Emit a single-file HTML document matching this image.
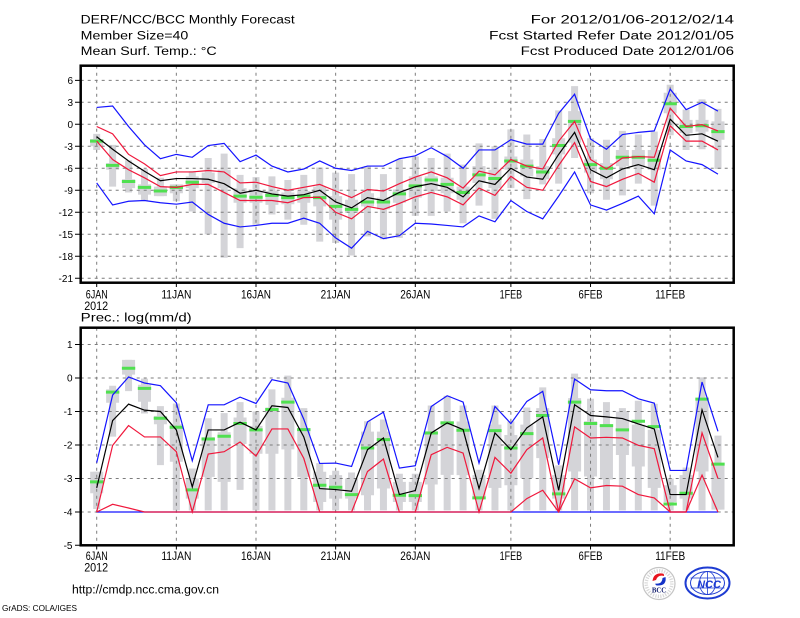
<!DOCTYPE html>
<html><head><meta charset="utf-8"><style>
html,body{margin:0;padding:0;background:#fff;}
svg{display:block;}
text{font-family:"Liberation Sans",sans-serif;fill:#000;}
.ns{vector-effect:non-scaling-stroke;fill:none;}
</style></head><body>
<svg width="800" height="618" viewBox="0 0 800 618" xmlns="http://www.w3.org/2000/svg">
<rect width="800" height="618" fill="#fff"/>

<!-- Header -->
<g font-size="11.5">
<text x="80.7" y="23.3" textLength="214" lengthAdjust="spacingAndGlyphs">DERF/NCC/BCC Monthly Forecast</text>
<text x="80.7" y="39.3" textLength="107.6" lengthAdjust="spacingAndGlyphs">Member Size=40</text>
<text x="80.7" y="55" textLength="136" lengthAdjust="spacingAndGlyphs">Mean Surf. Temp.: °C</text>
<text x="530.7" y="23.3" textLength="203.3" lengthAdjust="spacingAndGlyphs">For 2012/01/06-2012/02/14</text>
<text x="489" y="39.3" textLength="245" lengthAdjust="spacingAndGlyphs">Fcst Started Refer Date 2012/01/05</text>
<text x="520.7" y="55" textLength="213.3" lengthAdjust="spacingAndGlyphs">Fcst Produced Date 2012/01/06</text>
<text x="80.7" y="321.7" textLength="111" lengthAdjust="spacingAndGlyphs">Prec.: log(mm/d)</text>
</g>

<!-- ================= TOP CHART ================= -->
<g transform="matrix(15.93 0 0 -7.33 96.7 124.3)">
<path class="ns" stroke="#d4d4d8" stroke-width="7" d="M0,-1.3V-3.5M1,-2.8V-8.5M2,-4.9V-9.3M3,-6.1V-10.4M4,-7.3V-9.8M5,-8.2V-10.5M6,-6.4V-11.9M7,-4.6V-15M8,-4V-18.2M9,-6.9V-16.9M10,-7.2V-13.7M11,-7.1V-12.3M12,-7.6V-13M13,-6.9V-13.7M14,-5.9V-16M15,-6.6V-16.2M16,-6.8V-17.9M17,-5.7V-15.3M18,-6.8V-15.7M19,-4.8V-15.5M20,-4.4V-12.5M21,-4.6V-12.5M22,-4V-11.9M23,-5.5V-13.5M24,-2.6V-11.1M25,-3V-12.9M26,-0.7V-8.7M27,-1.4V-10.2M28,-2V-8.2M29,1.9V-8.1M30,5.2V-4.6M31,-1.9V-9.4M32,-2.1V-10.3M33,-0.9V-9.7M34,-1.4V-8.1M35,-1V-11.1M36,5.4V-1.5M37,2V-3.5M38,3.4V-3.4M39,2.1V-6.1"/>
<path class="ns" stroke="#d4d4d8" stroke-width="13" d="M0,-2V-3M1,-5.3V-6.2M2,-7.5V-8.7M3,-8.2V-9.6M4,-8.5V-9.8M5,-8.2V-9.4M6,-7.1V-8.7M7,-6.6V-8M8,-6.2V-8.7M9,-8.7V-10.7M10,-9.1V-10.7M11,-9.1V-11M12,-9.3V-10.9M13,-9.1V-10.7M14,-8.5V-11.2M15,-9.8V-13M16,-10.3V-12.1M17,-9.4V-11.2M18,-10V-11.6M19,-8.9V-10.7M20,-7.1V-10M21,-7.1V-9.1M22,-7.3V-9.4M23,-8.5V-10.3M24,-5.7V-8M25,-6.2V-8.7M26,-4.4V-6.2M27,-4.8V-7.1M28,-5.7V-7.5M29,-1.9V-4.1M30,1.8V-2.5M31,-4.8V-6.6M32,-5.3V-7.5M33,-3.5V-5.7M34,-3.5V-5.7M35,-3.5V-6.2M36,4.3V1.5M37,0.6V-1.2M38,0.6V-1M39,0.4V-2.1"/>
</g>
<!-- top grid -->
<g stroke="#7c7c7c" stroke-width="1" stroke-dasharray="3 4" fill="none">
<path d="M80.7,80.32H733.7M80.7,102.31H733.7M80.7,124.3H733.7M80.7,146.29H733.7M80.7,168.28H733.7M80.7,190.27H733.7M80.7,212.26H733.7M80.7,234.25H733.7M80.7,256.24H733.7M80.7,278.23H733.7"/>
<path d="M96.7,65.7V282.7M176.35,65.7V282.7M256,65.7V282.7M335.65,65.7V282.7M415.3,65.7V282.7M510.88,65.7V282.7M590.53,65.7V282.7M670.18,65.7V282.7"/>
</g>
<g transform="matrix(15.93 0 0 -7.33 96.7 124.3)">
<path class="ns" stroke="#50e050" stroke-width="3" d="M-0.42,-2.3h0.84M0.58,-5.6h0.84M1.58,-7.8h0.84M2.58,-8.6h0.84M3.58,-9.1h0.84M4.58,-8.6h0.84M5.58,-7.9h0.84M8.58,-9.8h0.84M9.58,-9.95h0.84M10.58,-9.7h0.84M11.58,-10h0.84M12.58,-9.8h0.84M13.58,-10h0.84M14.58,-11.2h0.84M15.58,-11.6h0.84M16.58,-10.6h0.84M17.58,-10.6h0.84M18.58,-9.5h0.84M19.58,-8.4h0.84M20.58,-7.6h0.84M21.58,-8.2h0.84M22.58,-9.3h0.84M23.58,-6.9h0.84M24.58,-7.4h0.84M25.58,-5h0.84M26.58,-5.7h0.84M27.58,-6.5h0.84M28.58,-2.9h0.84M29.58,0.4h0.84M30.58,-5.5h0.84M31.58,-6h0.84M32.58,-4.5h0.84M33.58,-4.5h0.84M34.58,-4.9h0.84M35.58,2.8h0.84M36.58,-0.3h0.84M37.58,-0.2h0.84M38.58,-1h0.84"/>
<polyline class="ns" stroke="#1414ff" stroke-width="1.2" points="0,2.3 1,2.5 2,-0.3 3,-2.8 4,-4.7 5,-4.1 6,-4.5 7,-2.9 8,-2.6 9,-5.1 10,-4.2 11,-5.7 12,-6.5 13,-6.1 14,-5 15,-6 16,-6.3 17,-5.7 18,-5.7 19,-4.7 20,-4.3 21,-3.2 22,-4.4 23,-6 24,-3.5 25,-3.5 26,-2.1 27,-2.7 28,-2.7 29,1.5 30,4.1 31,-2 32,-3.4 33,-1.4 34,-1.1 35,-0.9 36,4.8 37,2 38,3 39,1.8"/>
<polyline class="ns" stroke="#1414ff" stroke-width="1.2" points="0,-8 1,-11 2,-10.5 3,-10.4 4,-10.7 5,-10.9 6,-10.6 7,-12.3 8,-13.5 9,-14 10,-13.8 11,-13.5 12,-13.5 13,-12.8 14,-13.5 15,-15.5 16,-16.9 17,-14.6 18,-15.6 19,-15.2 20,-13.5 21,-13.6 22,-13.8 23,-14 24,-12.5 25,-13.3 26,-10.4 27,-11.9 28,-12.9 29,-9.8 30,-6.5 31,-11 32,-11.7 33,-10.8 34,-9.8 35,-12.2 36,-3.5 37,-5 38,-5.5 39,-6.8"/>
<polyline class="ns" stroke="#f0183c" stroke-width="1.2" points="0,-0.3 1,-1.3 2,-4.1 3,-5.4 4,-7 5,-6.5 6,-6.5 7,-6.3 8,-6.5 9,-8 10,-7.9 11,-8.5 12,-9 13,-8.6 14,-8.2 15,-9.1 16,-10 17,-8.9 18,-9.1 19,-8.1 20,-7.2 21,-6.5 22,-7.3 23,-8.7 24,-6.4 25,-6.9 26,-4.8 27,-5.7 28,-6.1 29,-2.3 30,0.4 31,-4.8 32,-6.1 33,-4.6 34,-4.4 35,-4.5 36,2.2 37,-0.3 38,-0.05 39,-0.9"/>
<polyline class="ns" stroke="#f0183c" stroke-width="1.2" points="0,-2.3 1,-4.8 2,-6.2 3,-7.3 4,-8.5 5,-8.6 6,-8.2 7,-8.2 8,-9.3 9,-10.4 10,-10.4 11,-10.4 12,-10.7 13,-10 14,-9.95 15,-12 16,-12.9 17,-11.2 18,-11.6 19,-10.8 20,-9.9 21,-9.3 22,-9.9 23,-11 24,-8.7 25,-9.7 26,-7.1 27,-8.6 28,-9 29,-5.6 30,-2.5 31,-7.8 32,-8.5 33,-7.5 34,-6.7 35,-7.9 36,-0.2 37,-2.3 38,-2.3 39,-3.5"/>
<polyline class="ns" stroke="#000" stroke-width="1.2" points="0,-1.7 1,-3.4 2,-5 3,-6.4 4,-7.7 5,-7.4 6,-7.4 7,-7.5 8,-8.1 9,-9.4 10,-9 11,-9.5 12,-9.8 13,-9.6 14,-9 15,-10.6 16,-11.4 17,-10 18,-10.4 19,-9.3 20,-8.5 21,-8.1 22,-8.6 23,-9.9 24,-7.7 25,-8.2 26,-6 27,-7.2 28,-7.5 29,-4.1 30,-1.1 31,-6.2 32,-7.3 33,-6.1 34,-5.5 35,-6.2 36,0.7 37,-1.5 38,-1.3 39,-2.3"/>
</g>
<!-- top frame & ticks -->
<rect x="80.7" y="65.7" width="653" height="217" fill="none" stroke="#000" stroke-width="2.5"/>
<path stroke="#000" stroke-width="1" fill="none" d="M75,80.32H80.7M75,102.31H80.7M75,124.3H80.7M75,146.29H80.7M75,168.28H80.7M75,190.27H80.7M75,212.26H80.7M75,234.25H80.7M75,256.24H80.7M75,278.23H80.7M96.7,282.7V287M176.35,282.7V287M256,282.7V287M335.65,282.7V287M415.3,282.7V287M510.88,282.7V287M590.53,282.7V287M670.18,282.7V287"/>
<g font-size="10" text-anchor="end">
<text x="73" y="83.9">6</text>
<text x="73" y="105.9">3</text>
<text x="73" y="127.9">0</text>
<text x="73" y="149.9">-3</text>
<text x="73" y="171.9">-6</text>
<text x="73" y="193.9">-9</text>
<text x="73" y="215.9">-12</text>
<text x="73" y="237.9">-15</text>
<text x="73" y="259.9">-18</text>
<text x="73" y="281.8">-21</text>
</g>
<g font-size="11.5">
<text x="85.7" y="298.3" textLength="22" lengthAdjust="spacingAndGlyphs">6JAN</text>
<text x="84.2" y="310" textLength="24" lengthAdjust="spacingAndGlyphs">2012</text>
<text x="161.35" y="298.3" textLength="30" lengthAdjust="spacingAndGlyphs">11JAN</text>
<text x="241" y="298.3" textLength="30" lengthAdjust="spacingAndGlyphs">16JAN</text>
<text x="320.65" y="298.3" textLength="30" lengthAdjust="spacingAndGlyphs">21JAN</text>
<text x="400.3" y="298.3" textLength="30" lengthAdjust="spacingAndGlyphs">26JAN</text>
<text x="499.6" y="298.3" textLength="22.5" lengthAdjust="spacingAndGlyphs">1FEB</text>
<text x="578.5" y="298.3" textLength="24" lengthAdjust="spacingAndGlyphs">6FEB</text>
<text x="655.2" y="298.3" textLength="30" lengthAdjust="spacingAndGlyphs">11FEB</text>
</g>

<!-- ================= BOTTOM CHART ================= -->
<g transform="matrix(15.93 0 0 -33.5 96.7 378)">
<path class="ns" stroke="#d4d4d8" stroke-width="7" d="M0,-2.8V-3.91M1,-0.23V-1.75M2,0.54V-0.39M3,-0.02V-1.06M4,-0.84V-2.6M5,-0.76V-3.95M6,-2.7V-3.95M7,-1.2V-3.95M8,-1.05V-3.95M9,-0.72V-3.34M10,-1V-3.95M11,-0.34V-3.95M12,0.07V-3.95M13,-0.9V-3.95M14,-2.54V-3.95M15,-2.77V-3.95M16,-2.82V-3.95M17,-1.29V-3.95M18,-1.24V-3.95M19,-2.86V-3.95M20,-2.86V-3.95M21,-0.82V-3.95M22,-0.53V-3.95M23,-0.82V-3.95M24,-2.74V-3.95M25,-0.82V-3.95M26,-1.29V-3.95M27,-0.88V-3.95M28,-0.28V-3.95M29,-2.61V-3.95M30,0.13V-3.95M31,-0.62V-3.95M32,-0.72V-3.95M33,-0.9V-3.95M34,-0.68V-3.95M35,-0.77V-3.95M36,-3V-3.95M37,-2.67V-3.95M38,0.02V-3.95M39,-1.72V-3.93"/>
<path class="ns" stroke="#d4d4d8" stroke-width="13" d="M0,-2.8V-3.44M1,-0.34V-0.74M2,0.54V0.1M3,-0.2V-0.71M4,-1.13V-1.38M5,-1.38V-2.5M6,-3V-3.6M7,-1.77V-2.95M8,-1.62V-3.1M9,-1.18V-1.97M10,-1.43V-2.26M11,-0.88V-2.26M12,-0.59V-2.13M13,-1.57V-2.95M14,-2.8V-3.7M15,-2.9V-3.6M16,-3V-3.6M17,-1.6V-3.5M18,-1.6V-3.3M19,-3.1V-3.7M20,-3.1V-3.7M21,-1.59V-3.18M22,-1.29V-2.89M23,-1.3V-2.9M24,-2.9V-3.6M25,-1.39V-3.28M26,-1.7V-3.2M27,-1.39V-2.99M28,-0.9V-2.39M29,-2.9V-3.6M30,-0.6V-2.79M31,-1.29V-2.94M32,-1.39V-3.03M33,-1V-2.3M34,-1.39V-2.64M35,-1.54V-3.28M36,-3.2V-3.7M37,-2.9V-3.6M38,-0.65V-2.79M39,-2.54V-3.93"/>
</g>
<g stroke="#7c7c7c" stroke-width="1" stroke-dasharray="3 4" fill="none">
<path d="M80.7,344.5H733.7M80.7,378H733.7M80.7,411.5H733.7M80.7,445H733.7M80.7,478.5H733.7M80.7,512H733.7"/>
<path d="M96.7,327.7V545M176.35,327.7V545M256,327.7V545M335.65,327.7V545M415.3,327.7V545M510.88,327.7V545M590.53,327.7V545M670.18,327.7V545"/>
</g>
<g transform="matrix(15.93 0 0 -33.5 96.7 378)">
<path class="ns" stroke="#50e050" stroke-width="3" d="M-0.42,-3.1h0.84M0.58,-0.42h0.84M1.58,0.29h0.84M2.58,-0.31h0.84M3.58,-1.2h0.84M4.58,-1.47h0.84M5.58,-3.34h0.84M6.58,-1.82h0.84M7.58,-1.74h0.84M8.58,-1.36h0.84M9.58,-1.55h0.84M10.58,-0.94h0.84M11.58,-0.72h0.84M12.58,-1.54h0.84M13.58,-3.2h0.84M14.58,-3.26h0.84M15.58,-3.48h0.84M16.58,-2.09h0.84M17.58,-1.84h0.84M18.58,-3.5h0.84M19.58,-3.51h0.84M20.58,-1.64h0.84M21.58,-1.34h0.84M22.58,-1.56h0.84M23.58,-3.58h0.84M24.58,-1.57h0.84M25.58,-2.09h0.84M26.58,-1.66h0.84M27.58,-1.12h0.84M28.58,-3.46h0.84M29.58,-0.72h0.84M30.58,-1.36h0.84M31.58,-1.42h0.84M32.58,-1.55h0.84M33.58,-1.29h0.84M34.58,-1.45h0.84M35.58,-3.76h0.84M36.58,-3.44h0.84M37.58,-0.63h0.84M38.58,-2.57h0.84"/>
<polyline class="ns" stroke="#1414ff" stroke-width="1.2" points="0,-4 39,-4"/>
<polyline class="ns" stroke="#1414ff" stroke-width="1.2" points="0,-2.53 1,-0.51 2,0.03 3,-0.15 4,-0.23 5,-0.74 6,-2.47 7,-0.8 8,-0.8 9,-0.57 10,-0.76 11,-0.05 12,-0.15 13,-1.23 14,-2.55 15,-2.54 16,-2.64 17,-1.31 18,-1.02 19,-2.69 20,-2.62 21,-0.85 22,-0.53 23,-0.72 24,-2.54 25,-0.85 26,-1.36 27,-0.7 28,-0.4 29,-2.59 30,-0.03 31,-0.35 32,-0.38 33,-0.38 34,-0.62 35,-0.75 36,-2.76 37,-2.76 38,-0.12 39,-1.59"/>
<polyline class="ns" stroke="#f0183c" stroke-width="1.2" points="0,-4 1,-3.77 2,-3.88 3,-4 26,-4 27,-3.6 28,-3.35 29,-4 30,-3.01 31,-3.28 32,-3.21 33,-3.23 34,-3.48 35,-3.58 36,-4 37,-4 38,-2.9 39,-4"/>
<polyline class="ns" stroke="#f0183c" stroke-width="1.2" points="0,-4 1,-2.01 2,-1.42 3,-1.76 4,-1.76 5,-2.2 6,-4 7,-2.27 8,-2.2 9,-1.91 10,-2.33 11,-1.52 12,-1.52 13,-2.4 14,-4 15,-4 16,-4 17,-2.79 18,-2.42 19,-4 20,-4 21,-2.29 22,-2.07 23,-2.24 24,-4 25,-2.37 26,-2.84 27,-2.14 28,-1.79 29,-4 30,-1.46 31,-1.79 32,-1.77 33,-1.79 34,-2.01 35,-2.11 36,-4 37,-4 38,-1.64 39,-3"/>
<polyline class="ns" stroke="#000" stroke-width="1.2" points="0,-3.28 1,-1.27 2,-0.78 3,-0.96 4,-1 5,-1.55 6,-3.25 7,-1.55 8,-1.55 9,-1.32 10,-1.55 11,-0.83 12,-0.88 13,-1.76 14,-3.3 15,-3.33 16,-3.38 17,-2.14 18,-1.79 19,-3.48 20,-3.36 21,-1.64 22,-1.34 23,-1.54 24,-3.3 25,-1.64 26,-2.14 27,-1.49 28,-1.16 29,-3.35 30,-0.8 31,-1.12 32,-1.16 33,-1.21 34,-1.37 35,-1.52 36,-3.48 37,-3.48 38,-0.95 39,-2.37"/>
</g>
<rect x="80.7" y="327.7" width="653" height="217.6" fill="none" stroke="#000" stroke-width="2.5"/>
<path stroke="#000" stroke-width="1" fill="none" d="M75,344.5H80.7M75,378H80.7M75,411.5H80.7M75,445H80.7M75,478.5H80.7M75,512H80.7M75,545.3H80.7M96.7,545.3V549.5M176.35,545.3V549.5M256,545.3V549.5M335.65,545.3V549.5M415.3,545.3V549.5M510.88,545.3V549.5M590.53,545.3V549.5M670.18,545.3V549.5"/>
<g font-size="10" text-anchor="end">
<text x="72.5" y="348.1">1</text>
<text x="72.5" y="381.6">0</text>
<text x="72.5" y="415.1">-1</text>
<text x="72.5" y="448.6">-2</text>
<text x="72.5" y="482.1">-3</text>
<text x="72.5" y="515.6">-4</text>
<text x="72.5" y="549">-5</text>
</g>
<g font-size="11.5">
<text x="85.7" y="560" textLength="22" lengthAdjust="spacingAndGlyphs">6JAN</text>
<text x="84.2" y="571.7" textLength="24" lengthAdjust="spacingAndGlyphs">2012</text>
<text x="161.35" y="560" textLength="30" lengthAdjust="spacingAndGlyphs">11JAN</text>
<text x="241" y="560" textLength="30" lengthAdjust="spacingAndGlyphs">16JAN</text>
<text x="320.65" y="560" textLength="30" lengthAdjust="spacingAndGlyphs">21JAN</text>
<text x="400.3" y="560" textLength="30" lengthAdjust="spacingAndGlyphs">26JAN</text>
<text x="499.6" y="560" textLength="22.5" lengthAdjust="spacingAndGlyphs">1FEB</text>
<text x="578.5" y="560" textLength="24" lengthAdjust="spacingAndGlyphs">6FEB</text>
<text x="655.2" y="560" textLength="30" lengthAdjust="spacingAndGlyphs">11FEB</text>
</g>

<!-- Footer -->
<text x="72" y="593.3" font-size="11.5" textLength="147" lengthAdjust="spacingAndGlyphs">http://cmdp.ncc.cma.gov.cn</text>
<text x="2" y="611" font-size="8.4" textLength="75" lengthAdjust="spacingAndGlyphs">GrADS: COLA/IGES</text>

<!-- BCC logo -->
<g>
<circle cx="659" cy="583.5" r="16" fill="#fff" stroke="#c4c4c4" stroke-width="1.2"/>
<circle cx="659" cy="583.5" r="12.8" fill="none" stroke="#d8d8d8" stroke-width="3.5" stroke-dasharray="1.2 1.3"/>
<path d="M652.5,581 Q653.5,572.5 662.5,573.5 Q664.5,574 664,576 Q658,574.5 656,580 Z" fill="#e8141e"/>
<path d="M665.5,577 Q667,586 657,585.5 Q655,585 655.5,583.5 Q662,584.5 662.5,578 Z" fill="#1432c8"/>
<text x="659" y="592.6" font-size="6.8" font-weight="bold" text-anchor="middle" style="font-family:'Liberation Serif',serif;fill:#1a2470">BCC</text>
</g>
<!-- NCC logo -->
<g fill="none" stroke="#1e3cd2">
<ellipse cx="707.5" cy="583" rx="22" ry="15.5" stroke-width="2"/>
<ellipse cx="707.5" cy="583" rx="17" ry="11.5" stroke-width="1"/>
<ellipse cx="707.5" cy="583" rx="8" ry="11.5" stroke-width="0.8"/>
<path d="M690.5,578H724.5M690.5,588H724.5M707.5,571.5V594.5" stroke-width="0.8"/>
</g>
<text x="709" y="588" font-size="11" font-weight="bold" font-style="italic" text-anchor="middle" style="fill:#1e3cd2">NCC</text>
</svg>
</body></html>
